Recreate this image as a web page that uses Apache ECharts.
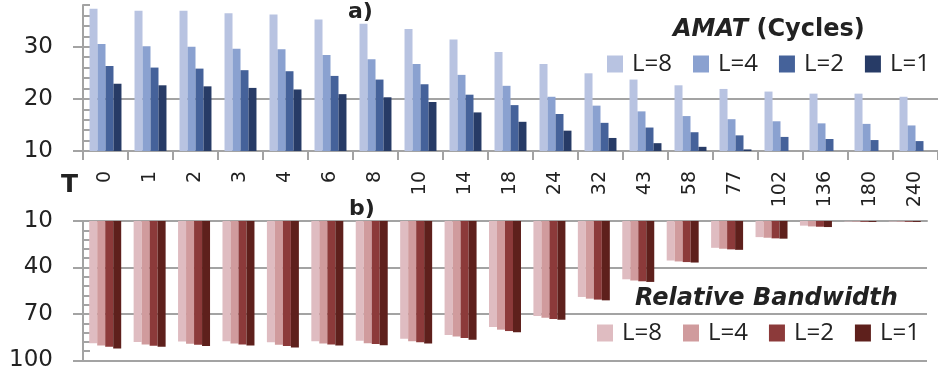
<!DOCTYPE html>
<html>
<head>
<meta charset="utf-8">
<script src="https://cdn.jsdelivr.net/npm/echarts@6/dist/echarts.min.js"></script>
<style>
    html, body { margin: 0; padding: 0; background: #fff; }
    #chart { width: 938px; height: 383px; }
</style>
</head>
<body>
<div id="chart"></div>
<script>
const categories = ['0', '1', '2', '3', '4', '6', '8', '10', '14', '18', '24', '32', '43', '58', '77', '102', '136', '180', '240'];
const levels = ['L=8', 'L=4', 'L=2', 'L=1'];

// a) AMAT (cycles)
const amatL8 = [37.3, 36.9, 36.9, 36.4, 36.2, 35.2, 34.4, 33.4, 31.4, 29.0, 26.7, 24.9, 23.7, 22.6, 21.9, 21.4, 21.0, 21.0, 20.4];
const amatL4 = [30.5, 30.1, 30.0, 29.6, 29.5, 28.4, 27.6, 26.7, 24.6, 22.5, 20.4, 18.7, 17.6, 16.7, 16.1, 15.7, 15.3, 15.2, 14.9];
const amatL2 = [26.3, 26.0, 25.8, 25.5, 25.3, 24.4, 23.7, 22.8, 20.8, 18.8, 17.1, 15.4, 14.5, 13.6, 13.0, 12.7, 12.3, 12.1, 11.9];
const amatL1 = [22.9, 22.6, 22.4, 22.1, 21.8, 20.9, 20.3, 19.4, 17.4, 15.6, 13.9, 12.5, 11.5, 10.8, 10.3, 10, 10, 10, 10];

// b) relative bandwidth
const bwL8 = [88.8, 88.1, 87.7, 87.5, 88.3, 87.5, 87.3, 86.0, 83.6, 78.4, 71.3, 59.0, 47.6, 35.5, 27.3, 20.4, 13.0, 10.3, 10.3];
const bwL4 = [90.3, 89.6, 89.2, 89.0, 89.9, 89.0, 88.8, 87.5, 84.5, 80.1, 72.4, 60.1, 48.4, 36.1, 27.9, 20.8, 13.5, 10.4, 10.4];
const bwL2 = [91.2, 90.5, 89.9, 89.6, 90.7, 89.6, 89.4, 88.3, 85.5, 81.0, 73.2, 60.7, 48.9, 36.5, 28.3, 21.2, 13.7, 10.5, 10.5];
const bwL1 = [92.2, 91.2, 90.7, 90.3, 91.6, 90.3, 90.1, 89.0, 86.6, 81.7, 73.7, 61.2, 49.3, 36.8, 28.6, 21.4, 13.9, 10.6, 10.6];

const amatTicks = [10, 20, 30];
const bwTicks = [10, 40, 70, 100];

const blues = ['#b8c3e1', '#8aa1d0', '#45629a', '#273b66'];
const reds = ['#dfbcc1', '#d09b9d', '#8c3a3a', '#5e201c'];
const gray = '#a3a3a3';
const ink = '#222';
const font = 'DejaVu Sans';
const legendFont = 'Open Sans';

const dom = document.getElementById('chart');
const myChart = echarts.init(dom);

const mainY = (grid, min, max, interval, ticks, inverse) => ({
    type: 'value',
    gridIndex: grid,
    position: 'left',
    min: min,
    max: max,
    interval: interval,
    inverse: inverse,
    axisLine: { show: true, lineStyle: { color: gray, width: 2 } },
    axisTick: { show: true, length: 10, customValues: ticks, lineStyle: { color: gray, width: 2 } },
    axisLabel: {
        customValues: ticks,
        margin: 30,
        color: ink,
        fontSize: 23,
        fontFamily: font,
    },
    splitLine: { show: true, showMinLine: false, showMaxLine: inverse, lineStyle: { color: gray, width: 2 } },
});

// second axis on the same side, only for the small inner ticks
const minorY = (grid, min, max, interval, inverse) => ({
    type: 'value',
    gridIndex: grid,
    position: 'left',
    min: min,
    max: max,
    interval: interval,
    inverse: inverse,
    axisLine: { show: false },
    axisTick: { show: true, inside: true, length: 7, lineStyle: { color: gray, width: 2 } },
    axisLabel: { show: false },
    splitLine: { show: false },
});

const series = [];
[amatL8, amatL4, amatL2, amatL1].forEach((d, i) => {
    series.push({
        name: 'a ' + levels[i],
        type: 'bar',
        xAxisIndex: 0,
        yAxisIndex: 0,
        barGap: '0%',
        barCategoryGap: '29%',
        itemStyle: { color: blues[i] },
        data: d,
    });
});
[bwL8, bwL4, bwL2, bwL1].forEach((d, i) => {
    series.push({
        name: 'b ' + levels[i],
        type: 'bar',
        xAxisIndex: 1,
        yAxisIndex: 2,
        barGap: '0%',
        barCategoryGap: '28%',
        itemStyle: { color: reds[i] },
        data: d,
    });
});

const legendBase = {
    orient: 'horizontal',
    icon: 'rect',
    padding: 0,
    itemWidth: 16,
    itemHeight: 17,
    itemGap: 21,
    selectedMode: false,
    formatter: (name) => name.slice(2),
    textStyle: { color: ink, fontSize: 24, fontFamily: legendFont, padding: [0, 0, 0, 4] },
};

const boldText = (size, italic) => ({ fontSize: size, fontWeight: 'bold', fontStyle: italic ? 'italic' : 'normal', fontFamily: font, color: ink });

const option = {
    animation: false,
    backgroundColor: '#fff',
    title: [
        { text: 'a)', left: 348, top: 1, padding: 0, textStyle: boldText(22) },
        {
            text: '{i|AMAT} (Cycles)', left: 673, top: 18, padding: 0,
            textStyle: Object.assign(boldText(24), { rich: { i: boldText(24, true) } }),
        },
        { text: 'b)', left: 349, top: 198, padding: 0, textStyle: boldText(22) },
        { text: 'Relative Bandwidth', left: 635, top: 287, padding: 0, textStyle: boldText(24, true) },
        { text: 'T', left: 61, top: 173, padding: 0, textStyle: boldText(25) },
    ],
    legend: [
        Object.assign({}, legendBase, { left: 607, top: 52, data: levels.map(l => 'a ' + l) }),
        Object.assign({}, legendBase, { left: 597, top: 321, data: levels.map(l => 'b ' + l) }),
    ],
    grid: [
        { left: 83, top: 5, height: 146, right: -8 },
        { left: 83, top: 221, height: 139.5, right: 11 },
    ],
    xAxis: [
        {
            type: 'category',
            gridIndex: 0,
            data: categories,
            axisLine: { show: true, lineStyle: { color: gray, width: 2 } },
            axisTick: { show: true, length: 9, lineStyle: { color: gray, width: 2 } },
            axisLabel: { rotate: 90, margin: 20, interval: 0, color: ink, fontSize: 19, fontFamily: font },
        },
        {
            type: 'category',
            gridIndex: 1,
            position: 'top',
            data: categories,
            axisLine: { show: true, lineStyle: { color: gray, width: 2 } },
            axisTick: { show: false },
            axisLabel: { show: false },
        },
    ],
    yAxis: [
        mainY(0, 10, 38, 10, amatTicks, false),
        minorY(0, 10, 38, 2, false),
        mainY(1, 10, 100, 30, bwTicks, true),
        minorY(1, 10, 100, 6, true),
    ],
    series: series,
};
myChart.setOption(option);
</script>
</body>
</html>
